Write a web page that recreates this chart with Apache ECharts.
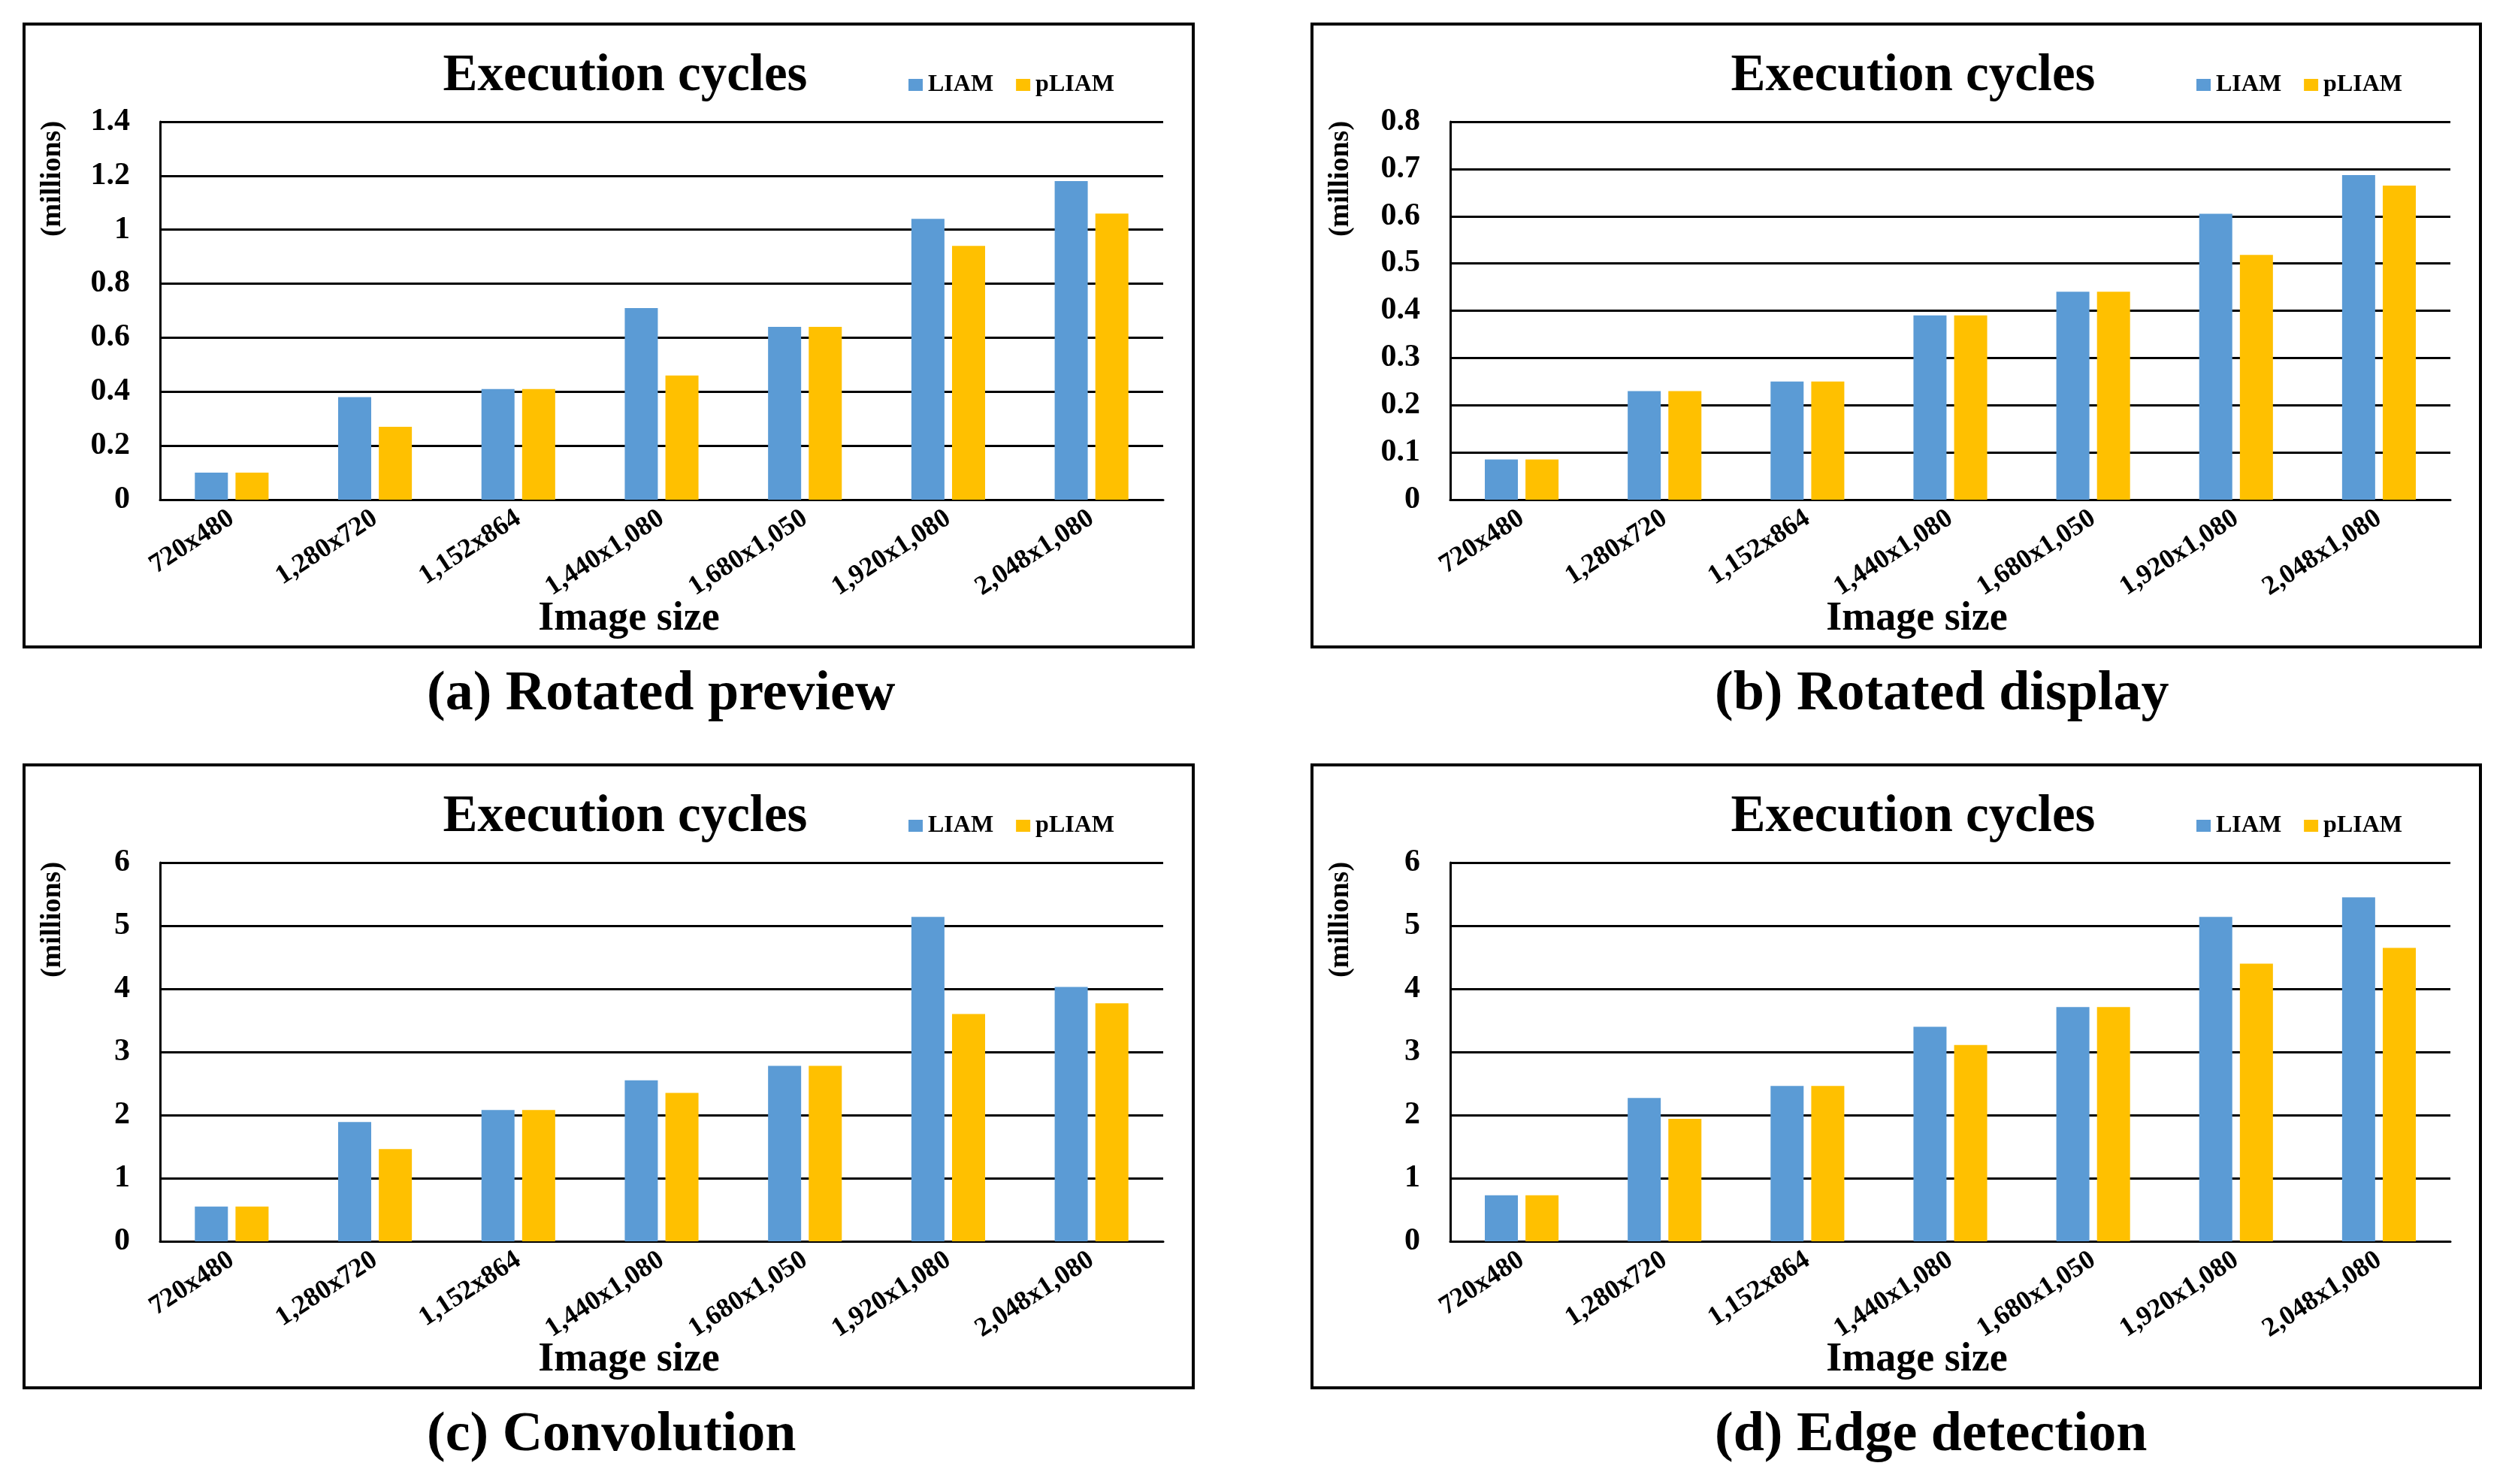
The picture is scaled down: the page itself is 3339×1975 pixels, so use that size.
<!DOCTYPE html>
<html>
<head>
<meta charset="utf-8">
<script src="https://cdn.jsdelivr.net/npm/echarts@6/dist/echarts.min.js"></script>
<style>
html,body{margin:0;padding:0;background:#fff;}
#chart{width:3339px;height:1975px;}
</style>
</head>
<body>
<div id="chart"></div>
<script>
// ---- data ----
const categories = ['720x480','1,280x720','1,152x864','1,440x1,080','1,680x1,050','1,920x1,080','2,048x1,080'];
const seriesNames = ['LIAM','pLIAM'];
// (a) Rotated preview
const liamA  = [0.10, 0.38, 0.41, 0.71, 0.64, 1.04, 1.18];
const pliamA = [0.10, 0.27, 0.41, 0.46, 0.64, 0.94, 1.06];
// (b) Rotated display
const liamB  = [0.085, 0.23, 0.25, 0.39, 0.44, 0.605, 0.687];
const pliamB = [0.085, 0.23, 0.25, 0.39, 0.44, 0.518, 0.665];
// (c) Convolution
const liamC  = [0.55, 1.89, 2.08, 2.55, 2.78, 5.14, 4.03];
const pliamC = [0.55, 1.46, 2.08, 2.35, 2.78, 3.60, 3.77];
// (d) Edge detection
const liamD  = [0.73, 2.27, 2.46, 3.40, 3.71, 5.14, 5.45];
const pliamD = [0.73, 1.94, 2.46, 3.11, 3.71, 4.40, 4.65];
// y axis ranges: [min, max, interval]
const yRanges = [[0, 1.4, 0.2], [0, 0.8, 0.1], [0, 6, 1], [0, 6, 1]];
const captions = ['(a) Rotated preview', '(b) Rotated display', '(c) Convolution', '(d) Edge detection'];
const chartTitle = 'Execution cycles';
const xAxisName = 'Image size';
const yAxisName = '(millions)';

const colors = ['#5B9BD5', '#FFC000'];
const FONT = '"Liberation Serif", "Times New Roman", serif';
const panelData = [[liamA, pliamA], [liamB, pliamB], [liamC, pliamC], [liamD, pliamD]];

// layout per panel
const panels = [
  {bx: 32,   by: 32,   bw: 1556, bh: 829, gl: 213,  gt: 162,  gw: 1335, gh: 503},
  {bx: 1746, by: 32,   bw: 1555, bh: 829, gl: 1930, gt: 162,  gw: 1331, gh: 503},
  {bx: 32,   by: 1018, bw: 1556, bh: 829, gl: 213,  gt: 1148, gw: 1335, gh: 504},
  {bx: 1746, by: 1018, bw: 1555, bh: 829, gl: 1930, gt: 1148, gw: 1331, gh: 504}
];

const grids = [], xAxes = [], yAxes = [], series = [], legends = [], graphics = [];
panels.forEach((p, i) => {
  grids.push({left: p.gl, top: p.gt, width: p.gw, height: p.gh, containLabel: false});
  xAxes.push({
    type: 'category', gridIndex: i, data: categories,
    axisLine: {show: true, lineStyle: {color: '#000', width: 3}},
    axisTick: {show: false},
    axisLabel: {interval: 0, rotate: 33, margin: 22, color: '#000', fontFamily: FONT, fontWeight: 'bold', fontSize: 36, hideOverlap: false}
  });
  const r = yRanges[i];
  yAxes.push({
    type: 'value', gridIndex: i, min: r[0], max: r[1], interval: r[2],
    axisLine: {show: true, lineStyle: {color: '#000', width: 3}},
    axisTick: {show: false},
    splitLine: {show: true, lineStyle: {color: '#000', width: 3}},
    axisLabel: {margin: 40, color: '#000', fontFamily: FONT, fontWeight: 'bold', fontSize: 42}
  });
  seriesNames.forEach((n, k) => {
    series.push({
      type: 'bar', name: n, xAxisIndex: i, yAxisIndex: i,
      data: panelData[i][k], barWidth: 44, barGap: '23%',
      itemStyle: {color: colors[k]}, emphasis: {disabled: true}
    });
  });
  legends.push({
    data: seriesNames, left: p.bx + 1172, top: p.by + 60, orient: 'horizontal',
    itemWidth: 19, itemHeight: 16, itemGap: 30, icon: 'rect',
    textStyle: {color: '#000', fontFamily: FONT, fontWeight: 'bold', fontSize: 32, padding: [0, 0, 0, 2]},
    selectedMode: false
  });
  // box
  graphics.push({type: 'rect', shape: {x: p.bx, y: p.by, width: p.bw, height: p.bh},
    style: {fill: null, stroke: '#000', lineWidth: 4}, z: 100});
  // chart title
  graphics.push({type: 'text', x: p.bx + 800, y: p.by + 70,
    style: {text: chartTitle, font: 'bold 69px ' + FONT, fill: '#000', align: 'center', verticalAlign: 'middle'}});
  // x axis name
  graphics.push({type: 'text', x: p.bx + 805, y: p.by + 792,
    style: {text: xAxisName, font: 'bold 54px ' + FONT, fill: '#000', align: 'center', verticalAlign: 'middle'}});
  // y axis name (rotated)
  graphics.push({type: 'text', x: p.bx + 38, y: p.by + 206, rotation: Math.PI / 2,
    style: {text: yAxisName, font: 'bold 38px ' + FONT, fill: '#000', align: 'center', verticalAlign: 'middle'}});
  // caption
  graphics.push({type: 'text', x: p.bx + 536, y: p.by + p.bh + 64,
    style: {text: captions[i], font: 'bold 74px ' + FONT, fill: '#000', align: 'left', verticalAlign: 'middle'}});
});

const chart = echarts.init(document.getElementById('chart'), null, {renderer: 'canvas'});
chart.setOption({
  backgroundColor: '#fff',
  animation: false,
  grid: grids,
  xAxis: xAxes,
  yAxis: yAxes,
  legend: legends,
  series: series,
  graphic: graphics
});
</script>
</body>
</html>
